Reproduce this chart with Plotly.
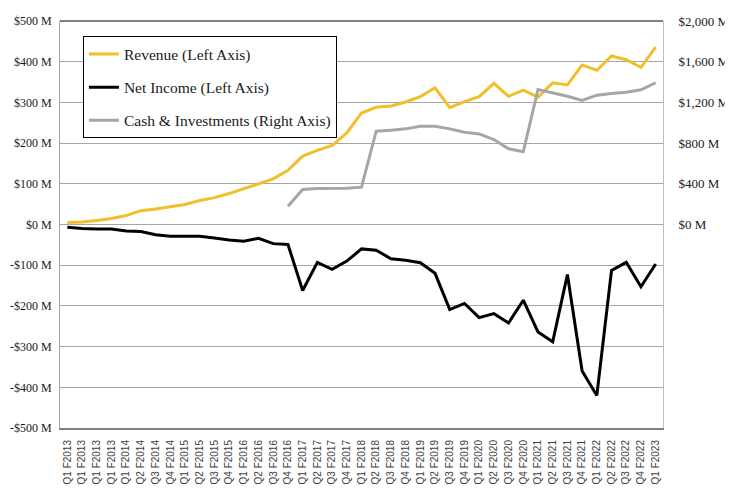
import plotly.graph_objects as go

quarters = ["Q1 F2013", "Q1 F2013", "Q1 F2013", "Q1 F2013",
            "Q1 F2014", "Q2 F2014", "Q3 F2014", "Q4 F2014",
            "Q1 F2015", "Q2 F2015", "Q3 F2015", "Q4 F2015",
            "Q1 F2016", "Q2 F2016", "Q3 F2016", "Q4 F2016",
            "Q1 F2017", "Q2 F2017", "Q3 F2017", "Q4 F2017",
            "Q1 F2018", "Q2 F2018", "Q3 F2018", "Q4 F2018",
            "Q1 F2019", "Q2 F2019", "Q3 F2019", "Q4 F2019",
            "Q1 F2020", "Q2 F2020", "Q3 F2020", "Q4 F2020",
            "Q1 F2021", "Q2 F2021", "Q3 F2021", "Q4 F2021",
            "Q1 F2022", "Q2 F2022", "Q3 F2022", "Q4 F2022",
            "Q1 F2023"]

revenue = [5, 6, 10, 15, 22, 34, 38, 44, 49, 59, 66, 76, 88, 99, 112, 133,
           168, 182, 194, 225, 274, 288, 291, 301, 314, 336, 287, 302, 314, 347,
           315, 330, 313, 348, 343, 392, 379, 414, 405, 386, 436]

net_income = [-7, -10, -11, -11, -16, -17, -25, -29, -29, -29, -33, -38, -41, -34, -47, -49,
              -162, -93, -110, -90, -60, -63, -84, -88, -94, -120, -209, -194, -229, -219,
              -242, -186, -264, -288, -123, -360, -420, -113, -93, -153, -97]

cash = [None] * 15 + [180, 344, 354, 354, 357, 367, 917, 927, 940, 966, 966, 940, 907, 890, 835,
                      744, 715, 1327, 1295, 1261, 1219, 1271, 1288, 1300, 1324, 1393]

left_ticks = [500, 400, 300, 200, 100, 0, -100, -200, -300, -400, -500]
left_labels = ["$500 M", "$400 M", "$300 M", "$200 M", "$100 M", "$0 M",
               "-$100 M", "-$200 M", "-$300 M", "-$400 M", "-$500 M"]
right_ticks = [0, 400, 800, 1200, 1600, 2000]
right_labels = ["$0 M", "$400 M", "$800 M", "$1,200 M", "$1,600 M", "$2,000 M"]

x = list(range(len(quarters)))
serif = "Liberation Serif"

fig = go.Figure()
fig.add_trace(go.Scatter(x=x, y=revenue, mode="lines", name="Revenue (Left Axis)",
                         line=dict(color="#F0BF2A", width=3), legendgroup="a"))
fig.add_trace(go.Scatter(x=x, y=net_income, mode="lines", name="Net Income (Left Axis)",
                         line=dict(color="#000000", width=3), legendgroup="b"))
fig.add_trace(go.Scatter(x=x, y=cash, mode="lines", name="Cash & Investments (Right Axis)",
                         line=dict(color="#A6A6A6", width=3), yaxis="y2", legendgroup="c"))

fig.update_layout(
    width=733, height=494,
    margin=dict(l=52, r=78, t=13, b=74, autoexpand=False),
    paper_bgcolor="white", plot_bgcolor="white",
    font=dict(family=serif, size=13, color="#1a1a1a"),
    showlegend=True,
    legend=dict(x=0.038, y=0.962, xanchor="left", yanchor="top",
                bordercolor="#000000", borderwidth=1, bgcolor="white",
                font=dict(family=serif, size=15.5, color="#1a1a1a"),
                tracegroupgap=10, itemwidth=30),
    xaxis=dict(range=[-0.5, len(quarters) - 0.5], tickmode="array", tickvals=x, ticktext=quarters,
               tickangle=-90, tickfont=dict(family="Liberation Sans", size=10, color="#404040"),
               showgrid=False, zeroline=False, showline=True, linecolor="#808080", linewidth=2,
               ticks="", ticklabelstandoff=6, automargin=False),
    yaxis=dict(range=[-500, 500], tickmode="array", tickvals=left_ticks, ticktext=left_labels,
               showgrid=True, gridcolor="#A6A6A6", gridwidth=1, zeroline=False,
               showline=True, linecolor="#A6A6A6", linewidth=1, ticks="", automargin=False,
               ticklabelstandoff=5, tickfont=dict(family=serif, size=12, color="#1a1a1a")),
    yaxis2=dict(range=[-2000, 2000], overlaying="y", side="right", tickmode="array",
                tickvals=right_ticks, ticktext=right_labels, showgrid=False, zeroline=False,
                showline=True, linecolor="#C0C0C0", linewidth=1, ticks="", automargin=False,
                ticklabelstandoff=12, tickfont=dict(family=serif, size=13, color="#1a1a1a")),
    shapes=[dict(type="line", xref="paper", yref="paper", x0=0, x1=1, y0=1, y1=1,
                 line=dict(color="#000000", width=1))],
)

fig.write_html("out.html")
